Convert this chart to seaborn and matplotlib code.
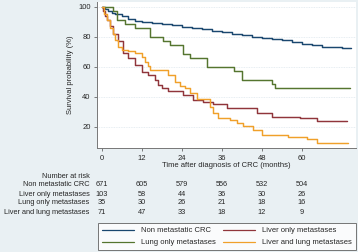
import numpy as np
import pandas as pd
import matplotlib
matplotlib.use("Agg")
import matplotlib.pyplot as plt
import matplotlib.transforms as mtransforms
import seaborn as sns

groups = ["Non metastatic CRC", "Liver only metastases",
          "Lung only metastases", "Liver and lung metastases"]
colors = ["#1a476f", "#90353b", "#55752f", "#f0a02a"]

t_non = [0, 1, 2, 3, 4, 6, 8, 10, 12, 15, 18, 21, 24, 27, 30, 33, 36, 39, 42,
         45, 48, 51, 54, 57, 60, 63, 66, 69, 72, 74.8]
s_non = [100, 98.5, 97, 96, 95.1, 93.5, 92, 90.7, 90, 89.2, 88.5, 87.5, 86.5,
         85.5, 84.8, 84, 83, 82, 81, 80, 79, 78.6, 77.5, 76.5, 75.2, 74.2,
         73.2, 72.8, 72.5, 72.5]

t_liver = [0, 0.5, 1, 1.5, 2.5, 3.5, 5, 6.5, 8, 10, 12, 14, 16, 17, 18, 20,
           23, 24.5, 27.5, 30.5, 33.5, 37.5, 46.5, 51.2, 59.5, 64.5, 73.5]
s_liver = [100, 97, 94, 91, 87, 82, 77, 69, 65.6, 61, 56.7, 54.4, 51, 48,
           45.6, 44, 43.5, 40.8, 37.8, 36.7, 35.1, 32.2, 29.3, 26.7, 25.6, 24,
           24]

t_lung = [0, 3.5, 4.7, 7, 10, 14.5, 18.4, 20.5, 24.3, 26.5, 31.7, 39.7, 42,
          51.2, 52, 74.5]
s_lung = [100, 97.1, 91.4, 88.6, 85.7, 80, 77.1, 74.3, 68.6, 65.7, 60, 57.1,
          51.4, 48.6, 45.7, 45.7]

t_both = [0, 0.7, 1.5, 2.5, 3.3, 4, 5, 6, 8, 10, 12, 13, 14, 14.5, 20, 22,
          23.5, 25, 26.5, 28.5, 32.5, 33.5, 35, 38.5, 40.5, 42.5, 45.5, 48,
          56, 61.5, 64.5, 73.8]
s_both = [100, 95, 91, 86, 82, 77.8, 73.3, 71.1, 70.4, 68.9, 66.7, 63.3,
          60.5, 57.8, 54.5, 50, 47.1, 45.6, 42.2, 38.5, 33.3, 28.9, 25.6, 24.4,
          22.2, 20.5, 17.8, 14.5, 12.9, 11.5, 9.3, 9.3]

risk_times = [0, 12, 24, 36, 48, 60]
risk_non = [671, 605, 579, 556, 532, 504]
risk_liver = [103, 58, 44, 36, 30, 26]
risk_lung = [35, 30, 26, 21, 18, 16]
risk_both = [71, 47, 33, 18, 12, 9]

yticks = [20, 40, 60, 80, 100]

frames = []
for g, t, s in zip(groups, [t_non, t_liver, t_lung, t_both],
                   [s_non, s_liver, s_lung, s_both]):
    frames.append(pd.DataFrame({"time": t, "surv": s, "group": g}))
df = pd.concat(frames, ignore_index=True)

sns.set_style("white")
plt.rcParams["font.family"] = ["Liberation Sans", "DejaVu Sans"]
fs = 5.5
bg = "#e9f0f3"

fig = plt.figure(figsize=(3.58, 2.52), dpi=100, facecolor=bg)
ax = fig.add_axes([97 / 358, (252 - 148.3) / 252, (356 - 97) / 358,
                   (148.3 - 2) / 252])
ax.set_facecolor("white")

sns.lineplot(data=df, x="time", y="surv", hue="group", hue_order=groups,
             palette=dict(zip(groups, colors)), drawstyle="steps-post",
             linewidth=1.05, estimator=None, sort=False, ax=ax, legend=False)

ax.set_xlim(-1.4, 76.3)
ax.set_ylim(5.6, 103.1)
ax.set_xticks(risk_times)
ax.set_yticks(yticks)
ax.tick_params(axis="both", labelsize=fs, length=2.5, width=0.6,
               color="#666666", pad=2, direction="out")
ax.tick_params(axis="x", bottom=True)
ax.tick_params(axis="y", left=True)
for y in yticks:
    ax.axhline(y, color="#dfe8ee", lw=0.6, ls=(0, (1, 1)), zorder=0)
for sp in ["top", "right"]:
    ax.spines[sp].set_visible(False)
for sp in ["left", "bottom"]:
    ax.spines[sp].set_color("#777777")
    ax.spines[sp].set_linewidth(0.7)
ax.set_xlabel("Time after diagnosis of CRC (months)", fontsize=fs, labelpad=0)
ax.set_ylabel("Survival probability (%)", fontsize=fs, labelpad=3)

# Number at risk table
tr = mtransforms.blended_transform_factory(ax.transData, fig.transFigure)
trf = fig.transFigure
label_x = 89.5 / 358
tfs = 5.3
fig.text(label_x, 1 - 176.5 / 252, "Number at risk", ha="right", va="center",
         fontsize=tfs, transform=trf)
rows_y = [185, 194, 203, 212]
for g, counts, ypx in zip(groups, [risk_non, risk_liver, risk_lung, risk_both],
                          rows_y):
    yy = 1 - ypx / 252
    fig.text(label_x, yy, g, ha="right", va="center", fontsize=tfs,
             transform=trf)
    for tt, c in zip(risk_times, counts):
        ax.text(tt, yy, str(c), ha="center", va="center", fontsize=tfs,
                transform=tr, clip_on=False)

handles = [plt.Line2D([], [], color=c, lw=0.9) for c in colors]
order = [0, 2, 1, 3]
leg = fig.legend([handles[i] for i in order], [groups[i] for i in order],
                 ncol=2, loc="lower left",
                 bbox_to_anchor=(98 / 358, 2 / 252, 258 / 358, 31 / 252),
                 bbox_transform=fig.transFigure, mode="expand", fontsize=fs,
                 frameon=True, fancybox=False, handlelength=4.2,
                 handletextpad=0.9, borderpad=0.5, labelspacing=0.6,
                 columnspacing=1.0, borderaxespad=0)
leg.get_frame().set_edgecolor("#555555")
leg.get_frame().set_linewidth(0.7)
leg.get_frame().set_facecolor("white")

fig.savefig("out.png", dpi=100, facecolor=bg)
